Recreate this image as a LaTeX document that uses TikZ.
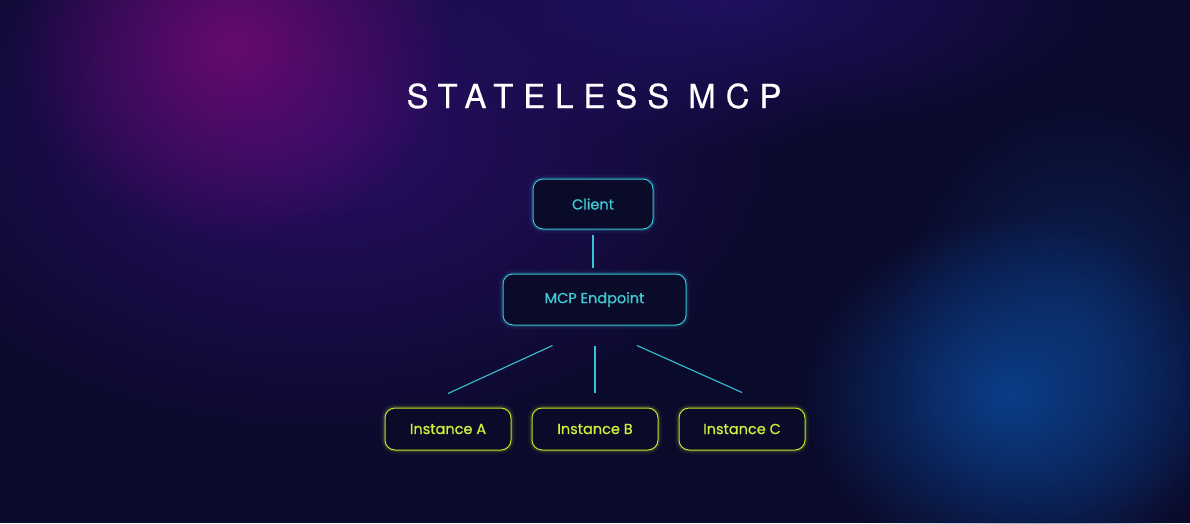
\documentclass[tikz,border=0pt]{standalone}
\usepackage{fontspec}
\usetikzlibrary{fadings,calc}
\newfontfamily\titlefont[LetterSpace=30,FakeBold=0.4]{TeX Gyre Heros}
\newfontfamily\lblfont[FakeBold=0.8]{Poppins}
\definecolor{bgbase}{HTML}{0A0A2A}
\definecolor{glowpurple}{HTML}{660A70}
\definecolor{glowindigo}{HTML}{2A0E66}
\definecolor{glowtop}{HTML}{201060}
\definecolor{glowblue}{HTML}{0C4A9E}
\definecolor{cyanline}{HTML}{36C3D6}
\definecolor{cyantext}{HTML}{3FCAD2}
\definecolor{limeline}{HTML}{C2E62A}
\definecolor{limetext}{HTML}{D3EE3C}
\definecolor{boxfill}{HTML}{0A0B28}
\tikzfading[name=glowfade, inner color=transparent!0, outer color=transparent!100]
\tikzset{
  cbox/.style={draw=cyanline, line width=1pt, fill=boxfill, rounded corners=10pt,
    text=cyantext, font=\lblfont\fontsize{14.5}{16}\selectfont, inner sep=0pt},
  ibox/.style={draw=limeline, line width=1pt, fill=boxfill, rounded corners=10pt,
    text=limetext, font=\lblfont\fontsize{14.5}{16}\selectfont, inner sep=0pt},
  conn/.style={draw=cyanline, line width=1.1pt},
  glowc/.style={preaction={draw=cyanline, line width=8pt, draw opacity=0.06},
                preaction={draw=cyanline, line width=4pt, draw opacity=0.14}},
  glowl/.style={preaction={draw=limeline, line width=8pt, draw opacity=0.06},
                preaction={draw=limeline, line width=4pt, draw opacity=0.14}},
}
\begin{document}
\begin{tikzpicture}[x=1pt,y=-1pt]
\useasboundingbox (0,0) rectangle (1190,523);
% background
\fill[bgbase] (0,0) rectangle (1190,523);
\fill[glowindigo, path fading=glowfade] (320,130) ellipse [x radius=500, y radius=330];
\fill[glowtop, path fading=glowfade] (720,0) ellipse [x radius=420, y radius=150];
\fill[glowpurple, path fading=glowfade] (235,45) ellipse [x radius=220, y radius=200];
\fill[glowblue!40!bgbase, path fading=glowfade] (1080,330) ellipse [x radius=190, y radius=240];
\fill[glowblue!80!bgbase, path fading=glowfade] (1010,395) ellipse [x radius=210, y radius=180];
% title
\node[text=white, font=\titlefont\fontsize{33}{36}\selectfont, anchor=base] (title) at (594,108) {STATELESS MCP};
% nodes
\node[cbox, glowc, minimum width=120pt, minimum height=50pt] (client) at (593,204) {Client};
\node[cbox, glowc, minimum width=183pt, minimum height=51pt] (ep) at (594.5,299.5) {MCP Endpoint};
\node[ibox, glowl, minimum width=126pt, minimum height=42pt] (ia) at (448,429) {Instance A};
\node[ibox, glowl, minimum width=126pt, minimum height=42pt] (ib) at (595,429) {Instance B};
\node[ibox, glowl, minimum width=126pt, minimum height=42pt] (ic) at (742,429) {Instance C};
% connectors
\draw[conn, shorten <=5pt, shorten >=6pt] (client.south) -- (ep.north -| client.south);
\draw[conn] ($(ep.south)+(-42,20)$) -- ($(ia.north)+(0,-14)$);
\draw[conn] ($(ep.south)+(0.5,20)$) -- ($(ib.north)+(0,-15)$);
\draw[conn] ($(ep.south)+(42.5,20)$) -- ($(ic.north)+(0,-15)$);
\end{tikzpicture}
\end{document}
